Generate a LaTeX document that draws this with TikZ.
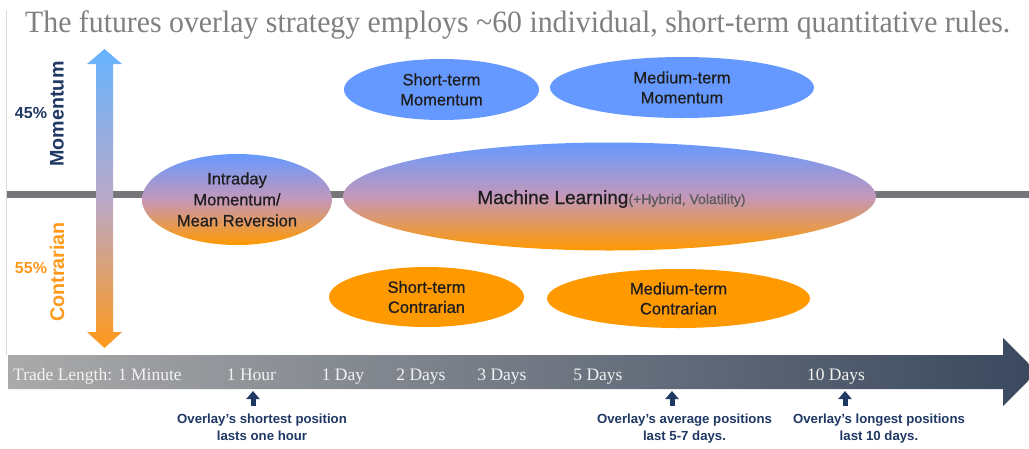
\documentclass[tikz,border=0pt]{standalone}
\usepackage{graphicx}
\usepackage{fontspec}
\setmainfont{Liberation Sans}
\newfontfamily\tmsf{Liberation Serif}
\newfontfamily\semib[FakeBold=0.7]{Liberation Sans}
\usetikzlibrary{shapes.geometric,arrows.meta}
\definecolor{ttl}{RGB}{128,128,128}
\definecolor{bluef}{RGB}{102,153,255}
\definecolor{orangef}{RGB}{255,153,0}
\definecolor{midf}{RGB}{196,152,186}
\definecolor{navy}{RGB}{31,56,100}
\definecolor{txt}{RGB}{30,30,30}
\definecolor{subtxt}{RGB}{90,90,90}
\definecolor{axisgray}{RGB}{118,118,122}
\definecolor{lightline}{RGB}{217,217,217}
\definecolor{barL}{RGB}{170,170,170}
\definecolor{barR}{RGB}{58,72,94}
\definecolor{arrowtop}{RGB}{102,180,255}
\definecolor{arrowmid}{RGB}{185,168,200}
\definecolor{arroworange}{RGB}{255,153,26}
\definecolor{tickc}{RGB}{242,242,242}
\begin{document}
\begin{tikzpicture}[x=1pt,y=-1pt,
  strat/.style={ellipse, inner sep=0pt, align=center, text=txt, font=\semib\fontsize{16.5}{20}\selectfont},
  mom/.style={strat, fill=bluef},
  con/.style={strat, fill=orangef},
  mix/.style={strat, top color=bluef, bottom color=orangef, middle color=midf},
  tick/.style={text=tickc, font=\tmsf\fontsize{17.5}{18}\selectfont, anchor=base, inner sep=0pt},
  note/.style={text=navy, font=\bfseries\fontsize{13.2}{16.5}\selectfont, align=center, inner sep=0pt, anchor=north},
  uparrow/.style={navy, line width=5pt, -{Triangle[width=13pt,length=8pt]}},
  sidelab/.style={font=\bfseries\fontsize{19.7}{20}\selectfont, rotate=90, inner sep=0pt},
  pct/.style={font=\bfseries\fontsize{16}{18}\selectfont, inner sep=0pt},
]
\useasboundingbox (0,0) rectangle (1029,448);
\fill[white] (0,0) rectangle (1029,448);
\begin{scope}
\clip (0,0) rectangle (1029,448);

% title
\node[anchor=base west, inner sep=0pt, text=ttl] (title) at (25,32)
  {\resizebox{985pt}{\height}{\tmsf\fontsize{31}{31}\selectfont The futures overlay strategy employs \textasciitilde60 individual, short-term quantitative rules.}};

% thin left line
\coordinate (lt) at (6.5,10);
\coordinate (lb) at (6.5,355);
\draw[lightline, line width=1pt] (lt) -- (lb);

% horizontal axis
\coordinate (axl) at (7,194.5);
\coordinate (axr) at (1029,194.5);
\draw[axisgray, line width=7pt] (axl) -- (axr);

% vertical gradient double arrow
\path[top color=arrowtop, bottom color=arroworange, middle color=arrowmid]
  (96,64) -- (87,64) -- (104.5,49) -- (122,64) -- (113,64) -- (113,332)
  -- (122,332) -- (104.5,348) -- (87,332) -- (96,332) -- cycle;

% side labels
\node[sidelab, text=navy] (momlab) at (57,114) {Momentum};
\node[sidelab, text=arroworange] (conlab) at (57,272) {Contrarian};
\node[pct, text=navy] (p45) at (31,113) {45\%};
\node[pct, text=arroworange] (p55) at (31,268) {55\%};

% strategy ellipses
\node[mom, minimum width=195pt, minimum height=61pt] (stm) at (441.5,89.5) {Short-term\\Momentum};
\node[mom, minimum width=264pt, minimum height=61pt] (mtm) at (682,87.5) {Medium-term\\Momentum};
\node[mix, minimum width=190pt, minimum height=91pt, font=\semib\fontsize{16.5}{21}\selectfont] (intra) at (237,199.5) {Intraday\\Momentum/\\Mean Reversion};
\node[mix, minimum width=533pt, minimum height=108pt] (ml) at (609.5,196.5) {};
\node[anchor=base, inner sep=0pt, text=txt] (mltext) at (611.5,204)
  {\semib\fontsize{19}{20}\selectfont Machine Learning\textcolor{subtxt}{\fontsize{14}{16}\selectfont(+Hybrid, Volatility)}};
\node[con, minimum width=195pt, minimum height=60pt] (stc) at (426.5,297) {Short-term\\Contrarian};
\node[con, minimum width=263pt, minimum height=59pt] (mtc) at (678.5,298.5) {Medium-term\\Contrarian};

% timeline arrow
\path[left color=barL, right color=barR]
  (8,355) -- (1003,355) -- (1003,338) -- (1037,372) -- (1003,406) -- (1003,389) -- (8,389) -- cycle;

\node[tick, anchor=base west] (tmin) at (13,380) {Trade Length: 1 Minute};
\node[tick] (thour) at (251.5,380) {1 Hour};
\node[tick] (tday) at (343,380) {1 Day};
\node[tick] (t2) at (421,380) {2 Days};
\node[tick] (t3) at (502,380) {3 Days};
\node[tick] (t5) at (598,380) {5 Days};
\node[tick] (t10) at (836,380) {10 Days};

% annotations
\node[note] (n1) at (262,414) {Overlay's shortest position\\lasts one hour};
\node[note] (n2) at (684.5,414) {Overlay's average positions\\last 5-7 days.};
\node[note] (n3) at (879,414) {Overlay's longest positions\\last 10 days.};

\coordinate (a1b) at (253,406);
\coordinate (a1t) at (253,391);
\coordinate (a2b) at (672,406);
\coordinate (a2t) at (672,391);
\coordinate (a3b) at (845,406);
\coordinate (a3t) at (845,391);
\draw[uparrow] (a1b) -- (a1t);
\draw[uparrow] (a2b) -- (a2t);
\draw[uparrow] (a3b) -- (a3t);
\end{scope}
\end{tikzpicture}
\end{document}
